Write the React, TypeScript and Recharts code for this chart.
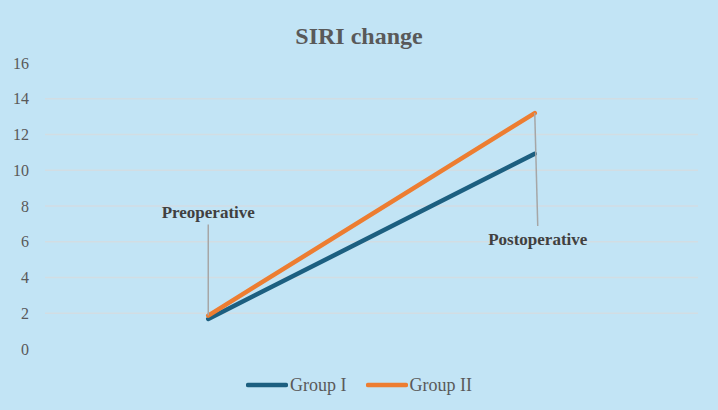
import React from "react";
import { LineChart, Line, XAxis, YAxis, CartesianGrid, Legend } from "recharts";

const categories = ["Preoperative", "Postoperative"];
const groupI = [1.68, 10.92];
const groupII = [1.87, 13.2];
const yTicks = [0, 2, 4, 6, 8, 10, 12, 14, 16];
const gridValues = [2, 4, 6, 8, 10, 12, 14];

const data = categories.map((name, i) => ({
  name,
  g1: groupI[i],
  g2: groupII[i],
}));

const BG = "#c2e4f5";
const BLUE = "#1c5f80";
const ORANGE = "#ed7d31";
const FONT = '"Liberation Serif", "Times New Roman", serif';

// callout offsets for the category labels (leader line end, text baseline)
const callouts = [
  { lineEnd: -91, textY: -98, dx: 0 },
  { lineEnd: 113, textY: 132, dx: 3 },
];

const CategoryCallout = (props: any) => {
  const { x, y, index } = props;
  const c = callouts[index];
  if (!c) return null;
  return (
    <g>
      <line
        x1={x}
        y1={y}
        x2={x + c.dx}
        y2={y + c.lineEnd}
        stroke="#a6a6a6"
        strokeWidth={1.5}
      />
      <text
        x={x + c.dx}
        y={y + c.textY}
        textAnchor="middle"
        fontFamily={FONT}
        fontWeight="bold"
        fontSize={17}
        fill="#404040"
      >
        {categories[index]}
      </text>
    </g>
  );
};

const LegendContent = (props: any) => {
  const { payload } = props;
  return (
    <div style={{ display: "flex", justifyContent: "center", gap: 19, height: 20 }}>
      {(payload || []).map((p: any) => (
        <div key={p.value} style={{ display: "flex", alignItems: "center" }}>
          <svg width={42} height={10}>
            <line x1={2} y1={5} x2={40} y2={5} stroke={p.color} strokeWidth={4.5} strokeLinecap="round" />
          </svg>
          <span style={{ fontFamily: FONT, fontSize: 18, color: "#595959", marginLeft: 2 }}>{p.value}</span>
        </div>
      ))}
    </div>
  );
};

export default function App() {
  return (
    <div style={{ position: "absolute", left: 0, top: 0, width: 718, height: 410, background: BG }}>
      <div
        style={{
          position: "absolute",
          top: 24,
          width: 718,
          textAlign: "center",
          fontFamily: FONT,
          fontWeight: "bold",
          fontSize: 24,
          lineHeight: "24px",
          color: "#595959",
          zIndex: 1,
        }}
      >
        SIRI change
      </div>
      <LineChart width={718} height={410} data={data} margin={{ top: 63, right: 20, bottom: 41, left: 0 }}>
        <CartesianGrid
          vertical={false}
          horizontalValues={gridValues}
          stroke="#d2dde3"
          strokeWidth={1.3}
        />
        <XAxis dataKey="name" scale="band" hide />
        <YAxis
          domain={[0, 16]}
          ticks={yTicks}
          width={45}
          axisLine={false}
          tickLine={false}
          tickSize={0}
          tickMargin={16}
          tick={{ fontFamily: FONT, fontSize: 16, fill: "#595959" }}
        />
        <Legend
          verticalAlign="bottom"
          content={LegendContent}
          wrapperStyle={{ bottom: 15, left: 0, width: 718 }}
        />
        <Line
          dataKey="g1"
          name="Group I"
          stroke={BLUE}
          strokeWidth={4.5}
          strokeLinecap="round"
          dot={false}
          isAnimationActive={false}
        />
        <Line
          dataKey="g2"
          name="Group II"
          stroke={ORANGE}
          strokeWidth={4.5}
          strokeLinecap="round"
          dot={false}
          label={CategoryCallout}
          isAnimationActive={false}
        />
      </LineChart>
    </div>
  );
}
